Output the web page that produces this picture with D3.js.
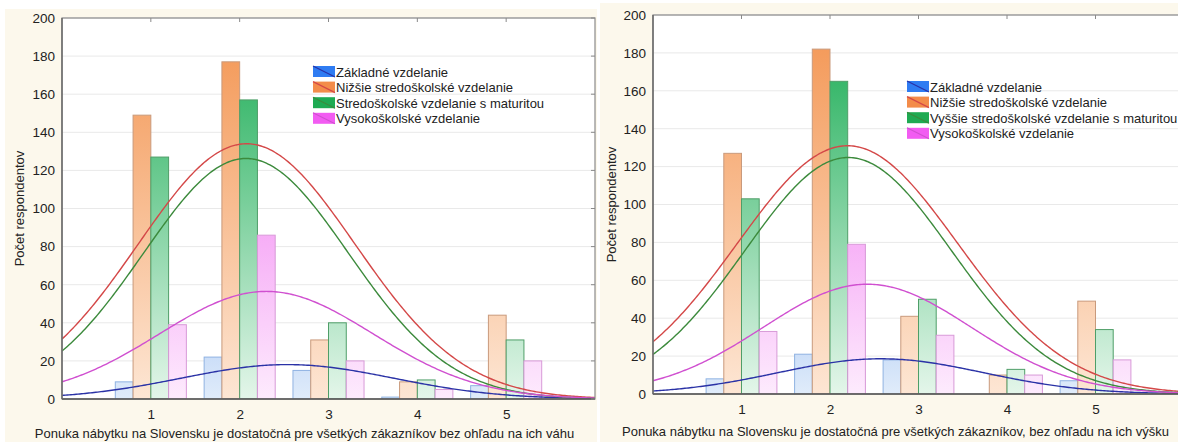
<!DOCTYPE html>
<html>
<head>
<meta charset="utf-8">
<script src="https://cdn.jsdelivr.net/npm/d3@7"></script>
<style>
  html, body { margin: 0; padding: 0; background: #ffffff; }
  svg { display: block; }
  text { font-family: "Liberation Sans", Arial, sans-serif; fill: #222; }
</style>
</head>
<body>
<svg id="chart" width="1178" height="442"></svg>
<script>
// Answer categories (Likert scale 1–5)
const categories = [1, 2, 3, 4, 5];
const yTicks = [0, 20, 40, 60, 80, 100, 120, 140, 160, 180, 200];

// Series names for each panel
const namesWeight = ["Základné vzdelanie", "Nižšie stredoškolské vzdelanie",
  "Stredoškolské vzdelanie s maturitou", "Vysokoškolské vzdelanie"];
const namesHeight = ["Základné vzdelanie", "Nižšie stredoškolské vzdelanie",
  "Vyššie stredoškolské vzdelanie s maturitou", "Vysokoškolské vzdelanie"];

// Counts per category – statement about weight
const weightBasic = [9, 22, 15, 1, 7];
const weightLowerSec = [149, 177, 31, 9, 44];
const weightSecondary = [127, 157, 40, 10, 31];
const weightUniversity = [39, 86, 20, 5, 20];

// Counts per category – statement about height
const heightBasic = [8, 21, 18, 0, 7];
const heightLowerSec = [127, 182, 41, 10, 49];
const heightSecondary = [103, 165, 50, 13, 34];
const heightUniversity = [33, 79, 31, 10, 18];

const titleWeight = "Ponuka nábytku na Slovensku je dostatočná pre všetkých zákazníkov bez ohľadu na ich váhu";
const titleHeight = "Ponuka nábytku na Slovensku je dostatočná pre všetkých zákazníkov, bez ohľadu na ich výšku";
const yTitle = "Počet respondentov";

// Styling per series: bar gradient (top/bottom), bar edge, fitted curve, legend swatch
const styles = [
  { top: "#2a70e8", bottom: "#e0ecfa", edge: "#8fb2e2", curve: "#2a32a6", swatch: "#2f7cf2" },
  { top: "#f39450", bottom: "#fde6d4", edge: "#c99a7c", curve: "#d44848", swatch: "#f38c4a" },
  { top: "#14aa50", bottom: "#e4f6ea", edge: "#4f9e68", curve: "#3c8a3c", swatch: "#1eaa52" },
  { top: "#ee5cee", bottom: "#fdebfd", edge: "#d89ad8", curve: "#d050d0", swatch: "#f25cf2" }
];

const svg = d3.select("#chart");
const defs = svg.append("defs");

// Cream panel backgrounds
svg.append("rect").attr("x", 5).attr("y", 9).attr("width", 592).attr("height", 433).attr("fill", "#fcf8ec");
svg.append("rect").attr("x", 600).attr("y", 3).attr("width", 578).attr("height", 439).attr("fill", "#fcf8ec");

// Normal curve fitted to the category counts (expected count per unit bin)
function normalFit(counts) {
  const n = d3.sum(counts);
  const mean = d3.sum(counts, (c, i) => c * categories[i]) / n;
  const ss = d3.sum(counts, (c, i) => c * (categories[i] - mean) ** 2);
  const sd = Math.sqrt(ss / (n - 1));
  return x => n / (sd * Math.sqrt(2 * Math.PI)) * Math.exp(-0.5 * ((x - mean) / sd) ** 2);
}

function drawPanel(cfg) {
  const { id, left, right, top, bottom, series, names, title, legendX, legendY, yTitleX, xTitleY, xTickPad } = cfg;
  const x = d3.scaleLinear().domain([0, 6]).range([left, right]);
  const y = d3.scaleLinear().domain([0, 200]).range([bottom, top]);
  const g = svg.append("g");

  // Plot area
  g.append("rect").attr("x", left).attr("y", top).attr("width", right - left).attr("height", bottom - top)
    .attr("fill", "#ffffff");

  // Horizontal gridlines
  g.append("g").selectAll("line").data(yTicks.slice(1)).join("line")
    .attr("x1", left).attr("x2", right).attr("y1", d => y(d)).attr("y2", d => y(d))
    .attr("stroke", "#e9e9e9").attr("stroke-width", 1);

  // Gradients spanning the full value range
  styles.forEach((s, i) => {
    const grad = defs.append("linearGradient").attr("id", `${id}-grad-${i}`)
      .attr("gradientUnits", "userSpaceOnUse")
      .attr("x1", 0).attr("x2", 0).attr("y1", y(200)).attr("y2", y(0));
    grad.append("stop").attr("offset", 0).attr("stop-color", s.top);
    grad.append("stop").attr("offset", 1).attr("stop-color", s.bottom);
  });

  const clipId = `${id}-clip`;
  defs.append("clipPath").attr("id", clipId).append("rect")
    .attr("x", left).attr("y", top).attr("width", right - left).attr("height", bottom - top);
  const plot = g.append("g").attr("clip-path", `url(#${clipId})`);

  // Bars: four contiguous bars per category, 0.8 of category width
  const barW = 0.2;
  series.forEach((vals, si) => {
    plot.append("g").selectAll("rect").data(vals).join("rect")
      .attr("x", (d, i) => x(categories[i] - 0.4 + si * barW))
      .attr("width", x(barW) - x(0))
      .attr("y", d => y(d))
      .attr("height", d => y(0) - y(d))
      .attr("fill", `url(#${id}-grad-${si})`)
      .attr("stroke", styles[si].edge).attr("stroke-width", 1);
  });

  // Fitted normal curves
  const xs = d3.range(0, 6.001, 0.02);
  series.forEach((vals, si) => {
    const f = normalFit(vals);
    plot.append("path")
      .datum(xs)
      .attr("d", d3.line().x(d => x(d)).y(d => y(f(d))))
      .attr("fill", "none").attr("stroke", styles[si].curve).attr("stroke-width", 1.4);
  });

  // Frame with inward ticks
  const frame = g.append("g").attr("stroke", "#8a8a8a").attr("fill", "none");
  frame.append("rect").attr("x", left).attr("y", top).attr("width", right - left).attr("height", bottom - top)
    .attr("stroke-width", 1.2);
  frame.append("line").attr("x1", left).attr("x2", right).attr("y1", bottom).attr("y2", bottom)
    .attr("stroke", "#555").attr("stroke-width", 1.6);
  frame.append("line").attr("x1", left).attr("x2", left).attr("y1", top).attr("y2", bottom)
    .attr("stroke", "#666").attr("stroke-width", 1.4);
  frame.selectAll(".tt").data(categories).join("line")
    .attr("x1", d => x(d)).attr("x2", d => x(d)).attr("y1", top).attr("y2", top + 4);
  frame.selectAll(".tr").data(yTicks).join("line")
    .attr("x1", right).attr("x2", right - 4).attr("y1", d => y(d)).attr("y2", d => y(d));

  // Axis labels via d3 axes
  const yAxis = d3.axisLeft(y).tickValues(yTicks).tickSize(0).tickPadding(7).tickFormat(d3.format("d"));
  g.append("g").attr("transform", `translate(${left},0)`).call(yAxis)
    .call(a => a.select(".domain").remove())
    .selectAll("text").attr("font-size", 13.5).attr("fill", "#222")
    .attr("font-family", "'Liberation Sans', Arial, sans-serif");
  const xAxis = d3.axisBottom(x).tickValues(categories).tickSize(0).tickPadding(xTickPad).tickFormat(d3.format("d"));
  g.append("g").attr("transform", `translate(0,${bottom})`).call(xAxis)
    .call(a => a.select(".domain").remove())
    .selectAll("text").attr("font-size", 13.5).attr("fill", "#222")
    .attr("font-family", "'Liberation Sans', Arial, sans-serif");

  // Axis titles
  g.append("text").attr("x", (left + right) / 2 - cfg.xTitleShift).attr("y", xTitleY)
    .attr("text-anchor", "middle").attr("font-size", 13).text(title);
  g.append("text").attr("transform", `translate(${yTitleX},${(top + bottom) / 2}) rotate(-90)`)
    .attr("text-anchor", "middle").attr("font-size", 13).text(yTitle);

  // Legend
  const lg = g.append("g").attr("transform", `translate(${legendX},${legendY})`);
  names.forEach((name, i) => {
    const row = lg.append("g").attr("transform", `translate(0,${i * 15.6})`);
    row.append("rect").attr("x", 0).attr("y", -6).attr("width", 22).attr("height", 11)
      .attr("fill", styles[i].swatch);
    row.append("line").attr("x1", 0).attr("y1", -6).attr("x2", 22).attr("y2", 5)
      .attr("stroke", styles[i].curve).attr("stroke-width", 1.2);
    row.append("text").attr("x", 23).attr("y", 4.5).attr("font-size", 13).text(name);
  });
}

drawPanel({
  id: "w", left: 62, right: 595, top: 18, bottom: 399,
  series: [weightBasic, weightLowerSec, weightSecondary, weightUniversity],
  names: namesWeight, title: titleWeight,
  legendX: 313, legendY: 72, yTitleX: 24, xTitleY: 438, xTickPad: 10, xTitleShift: 24
});

drawPanel({
  id: "h", left: 653, right: 1184, top: 15, bottom: 394,
  series: [heightBasic, heightLowerSec, heightSecondary, heightUniversity],
  names: namesHeight, title: titleHeight,
  legendX: 907, legendY: 87, yTitleX: 616, xTitleY: 436, xTickPad: 10, xTitleShift: 23
});
</script>
</body>
</html>
